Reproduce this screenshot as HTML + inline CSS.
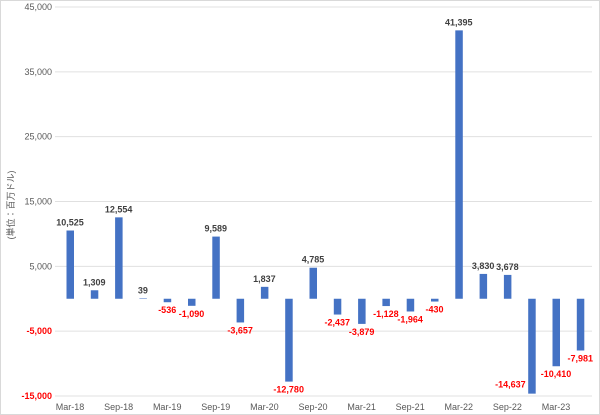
<!DOCTYPE html>
<html><head><meta charset="utf-8"><style>
body{margin:0;background:#fff}
svg{display:block;font-family:"Liberation Sans","Noto Sans CJK JP",sans-serif}
</style></head><body>
<svg id="c" width="600" height="415">
<rect x="0.5" y="0.5" width="599" height="414" fill="#fff" stroke="#d9d9d9"/>
<text transform="translate(14,205) rotate(-90)" text-anchor="middle" font-size="9" fill="#595959">(単位：百万ドル)</text>
</svg>
<script>
const categories=["Mar-18","Jun-18","Sep-18","Dec-18","Mar-19","Jun-19","Sep-19","Dec-19","Mar-20","Jun-20","Sep-20","Dec-20","Mar-21","Jun-21","Sep-21","Dec-21","Mar-22","Jun-22","Sep-22","Dec-22","Mar-23","Jun-23"];
const values=[10525,1309,12554,39,-536,-1090,9589,-3657,1837,-12780,4785,-2437,-3879,-1128,-1964,-430,41395,3830,3678,-14637,-10410,-7981];
const ticks=[-15000,-5000,5000,15000,25000,35000,45000];
const svg=document.getElementById('c');
const NS='http://www.w3.org/2000/svg';
const y0=7,y1=396,vmax=45000,vmin=-15000;
const y=v=>y0+(vmax-v)/(vmax-vmin)*(y1-y0);
const x=i=>70+i*24.3;
const fmt=v=>v.toLocaleString('en-US');
function mk(t,a){const e=document.createElementNS(NS,t);for(const k in a)e.setAttribute(k,a[k]);svg.appendChild(e);return e;}
ticks.forEach(t=>{
 const g=mk('line',{x1:55,x2:592,y1:y(t),y2:y(t),stroke:'#e0e0e0','stroke-width':1});
 
 
 const l=mk('text',{x:52,y:y(t)+3,'text-anchor':'end','font-size':9,'font-weight':t<0?'bold':'normal',fill:t<0?'#ff0000':'#595959'});
 l.textContent=fmt(t);
 
 
});
values.forEach((v,i)=>{
 const top=Math.min(y(v),y(0)),h=Math.max(Math.abs(y(v)-y(0)),0.5);
 const b=mk('rect',{x:x(i)-3.5,y:top,width:7.5,height:h,fill:'#4472c4'});
 
 
 let ly=v>=0?y(v)-5:y(v)+11, lx=x(i), anchor='middle';
 if(ly>396){ly=y(v)-6;lx=x(i)-6;anchor='end';}
 const l=mk('text',{x:lx,y:ly,'text-anchor':anchor,'font-size':9,'font-weight':'bold',fill:v<0?'#ff0000':'#404040'});
 l.textContent=fmt(v);
 
 
 if(i%2===0){
  const c=mk('text',{x:x(i),y:410,'text-anchor':'middle','font-size':9,fill:'#595959'});
  c.textContent=categories[i];
  
  
 }
});
</script>
</body></html>
